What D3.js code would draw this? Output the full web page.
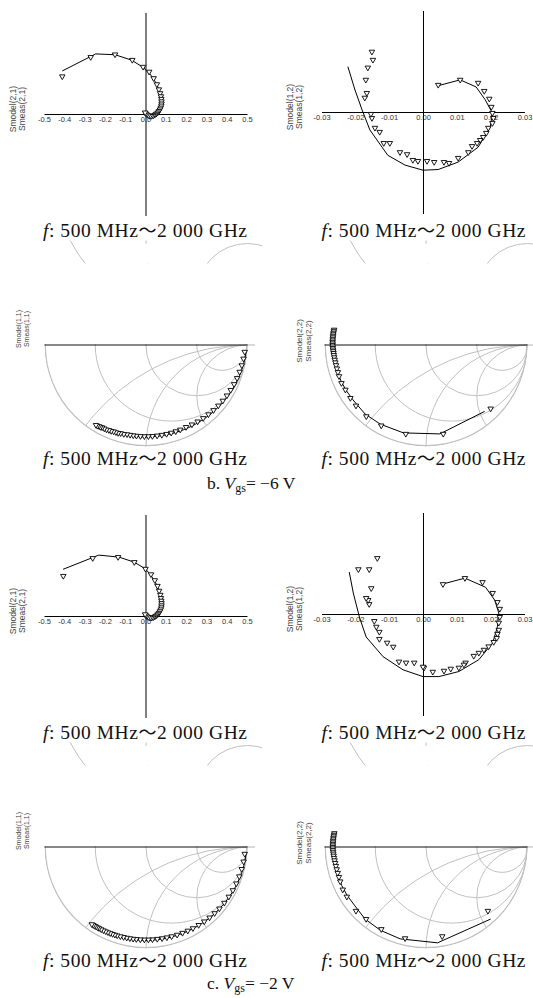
<!DOCTYPE html>
<html>
<head>
<meta charset="utf-8">
<script src="https://cdn.jsdelivr.net/npm/d3@7"></script>
<style>
  body { margin: 0; background: #fff; }
</style>
</head>
<body>
<div id="chart"></div>
<script>
// ---- data ----
const s21Ticks = [-0.5, -0.4, -0.3, -0.2, -0.1, 0, 0.1, 0.2, 0.3, 0.4, 0.5];
const s12Ticks = [-0.03, -0.02, -0.01, 0, 0.01, 0.02, 0.03];
const freqLabel = ['500 MHz', '2 000 GHz'];

// S21, polar, [re, im]
const s21ModelB = [[-0.41,0.212],[-0.245,0.296],[-0.15,0.292],[-0.07,0.266],[-0.015,0.232],[0.02,0.2],[0.043,0.168],[0.06,0.135],[0.072,0.105],[0.078,0.078],[0.079,0.055],[0.076,0.034],[0.069,0.017],[0.058,0.003],[0.045,-0.007],[0.031,-0.012],[0.018,-0.011],[0.008,-0.006],[0.002,0.001]];
const s21MeasB = [[-0.41,0.185],[-0.27,0.28],[-0.15,0.293],[-0.065,0.266],[-0.012,0.232],[0.018,0.208],[0.04,0.176],[0.056,0.146],[0.066,0.121],[0.072,0.102],[0.076,0.087],[0.078,0.074],[0.079,0.062],[0.079,0.051],[0.078,0.041],[0.075,0.031],[0.071,0.022],[0.066,0.014],[0.06,0.007],[0.053,0.001],[0.046,-0.004],[0.038,-0.008],[0.03,-0.01],[0.022,-0.01],[0.014,-0.007],[0.007,-0.003],[0.002,0.002],[-0.002,0.007]];
const s21ModelC = [[-0.406,0.23],[-0.23,0.3],[-0.13,0.29],[-0.055,0.265],[0,0.232],[0.027,0.2],[0.048,0.168],[0.062,0.137],[0.072,0.108],[0.077,0.08],[0.078,0.056],[0.075,0.035],[0.068,0.018],[0.057,0.004],[0.044,-0.006],[0.03,-0.011],[0.017,-0.01],[0.007,-0.005],[0.001,0.002]];
const s21MeasC = [[-0.405,0.197],[-0.26,0.285],[-0.135,0.29],[-0.055,0.265],[0,0.232],[0.027,0.205],[0.046,0.176],[0.059,0.148],[0.067,0.124],[0.073,0.104],[0.076,0.088],[0.078,0.075],[0.079,0.063],[0.079,0.052],[0.078,0.042],[0.075,0.032],[0.071,0.023],[0.066,0.015],[0.06,0.008],[0.053,0.002],[0.046,-0.003],[0.038,-0.007],[0.03,-0.009],[0.022,-0.009],[0.014,-0.006],[0.007,-0.002],[0.002,0.003],[-0.002,0.008]];

// S12, polar, [re, im]
const s12ModelB = [[0.0042,0.0077],[0.011,0.0095],[0.0157,0.0074],[0.0184,0.0036],[0.0205,-0.0003],[0.0199,-0.0045],[0.0163,-0.0104],[0.0104,-0.0148],[0.0045,-0.017],[0,-0.0172],[-0.0053,-0.0157],[-0.0104,-0.0128],[-0.0157,-0.0053],[-0.018,0.0006],[-0.0201,0.0065],[-0.0222,0.0134]];
const s12MeasB = [[0.0045,0.008],[0.011,0.0095],[0.0163,0.0086],[0.0181,0.0062],[0.0196,0.0039],[0.0202,0.0015],[0.0205,-0.0003],[0.0208,-0.0018],[0.0205,-0.0033],[0.0193,-0.0047],[0.0187,-0.0062],[0.0178,-0.0074],[0.0169,-0.0083],[0.016,-0.0092],[0.0145,-0.0101],[0.0134,-0.0119],[0.0104,-0.0136],[0.0077,-0.0151],[0.0062,-0.0148],[0.0033,-0.0148],[0.0012,-0.0145],[-0.0015,-0.0145],[-0.003,-0.0142],[-0.0047,-0.0125],[-0.0068,-0.0119],[-0.0098,-0.0092],[-0.0116,-0.0092],[-0.0128,-0.0059],[-0.0142,-0.0047],[-0.0151,-0.0018],[-0.0154,-0.0006],[-0.0172,0.0042],[-0.0166,0.0056],[-0.0169,0.0095],[-0.0163,0.0131],[-0.0148,0.0154],[-0.0151,0.0178]];
const s12ModelC = [[0.0056,0.0088],[0.0124,0.0106],[0.0185,0.0079],[0.0212,0.0041],[0.0224,0.0003],[0.022,-0.0038],[0.0206,-0.0085],[0.0165,-0.0135],[0.0106,-0.017],[0.0047,-0.0185],[0,-0.0185],[-0.0059,-0.0165],[-0.0118,-0.0126],[-0.0168,-0.0068],[-0.0188,-0.0009],[-0.0206,0.0062],[-0.0218,0.0124]];
const s12MeasC = [[0.0059,0.0088],[0.0124,0.0106],[0.0176,0.0094],[0.0206,0.0062],[0.022,0.0035],[0.0227,0.0015],[0.0227,-0.0009],[0.0224,-0.0026],[0.0224,-0.0047],[0.022,-0.0059],[0.0218,-0.0071],[0.0209,-0.0083],[0.0194,-0.0096],[0.018,-0.0106],[0.0165,-0.0115],[0.015,-0.0124],[0.0126,-0.0144],[0.0121,-0.015],[0.0106,-0.0159],[0.0082,-0.0162],[0.0062,-0.0168],[0.0029,-0.0171],[0.0003,-0.0159],[0,-0.0156],[-0.0026,-0.0144],[-0.005,-0.0144],[-0.0071,-0.0141],[-0.0088,-0.0097],[-0.0106,-0.0085],[-0.0129,-0.0074],[-0.0129,-0.0053],[-0.0138,-0.0038],[-0.0144,-0.0021],[-0.0159,0.0029],[-0.0162,0.0041],[-0.0168,0.0047],[-0.0153,0.0076],[-0.0191,0.0132],[-0.0159,0.0132],[-0.0135,0.0165]];

// S11, Smith, [|G|, angle deg]
const s11ModelB = [[0.99,-3],[0.978,-12],[0.962,-24],[0.945,-36],[0.93,-48],[0.918,-60],[0.91,-72],[0.906,-84],[0.906,-96],[0.91,-108],[0.92,-116],[0.93,-122]];
const s11MeasB = [[0.975,-4],[0.97,-8],[0.965,-12],[0.96,-16],[0.955,-20],[0.95,-24],[0.945,-28],[0.94,-32],[0.935,-36],[0.93,-40],[0.925,-44],[0.92,-48],[0.915,-52],[0.91,-56],[0.905,-60],[0.9,-64],[0.9,-68],[0.9,-71],[0.9,-74],[0.9,-77],[0.9,-80],[0.9,-83],[0.9,-86],[0.9,-88.5],[0.9,-91],[0.9,-93.5],[0.9,-96],[0.9,-98],[0.9,-100],[0.9,-102],[0.905,-104],[0.905,-106],[0.91,-107.5],[0.91,-109],[0.91,-110.5],[0.915,-112],[0.915,-113.5],[0.92,-115],[0.92,-116.5],[0.92,-118],[0.925,-119],[0.925,-120],[0.93,-121],[0.93,-122]];
const s11ModelC = [[0.99,-3],[0.98,-12],[0.965,-24],[0.95,-36],[0.938,-48],[0.928,-60],[0.922,-72],[0.92,-84],[0.92,-96],[0.922,-108],[0.926,-118],[0.93,-125]];
const s11MeasC = [[0.975,-4],[0.972,-8.5],[0.968,-13],[0.964,-17.5],[0.96,-22],[0.956,-26.5],[0.952,-31],[0.948,-35.5],[0.944,-40],[0.94,-44],[0.936,-48],[0.932,-52],[0.928,-56],[0.925,-60],[0.922,-63.5],[0.92,-67],[0.918,-70.5],[0.916,-74],[0.915,-77],[0.914,-80],[0.913,-83],[0.913,-86],[0.913,-88.5],[0.913,-91],[0.913,-93.5],[0.913,-96],[0.914,-98],[0.914,-100],[0.915,-102],[0.915,-104],[0.916,-106],[0.917,-108],[0.918,-109.5],[0.919,-111],[0.92,-112.5],[0.921,-114],[0.922,-115.5],[0.923,-117],[0.924,-118.5],[0.925,-120],[0.926,-121],[0.927,-122],[0.928,-123],[0.929,-124],[0.93,-125]];

// S22, Smith, [re, im]
const s22ModelB = [[-0.905,0.16],[-0.918,0.06],[-0.92,-0.02],[-0.912,-0.1],[-0.895,-0.18],[-0.87,-0.27],[-0.835,-0.36],[-0.785,-0.45],[-0.72,-0.54],[-0.6,-0.68],[-0.45,-0.78],[-0.222,-0.866],[0.137,-0.876],[0.578,-0.654]];
const s22MeasB = [[-0.905,0.15],[-0.908,0.135],[-0.911,0.12],[-0.913,0.105],[-0.915,0.09],[-0.917,0.075],[-0.918,0.06],[-0.919,0.045],[-0.92,0.03],[-0.92,0.015],[-0.92,0],[-0.919,-0.015],[-0.918,-0.03],[-0.916,-0.046],[-0.914,-0.062],[-0.911,-0.08],[-0.908,-0.1],[-0.904,-0.122],[-0.899,-0.146],[-0.893,-0.172],[-0.886,-0.2],[-0.878,-0.232],[-0.868,-0.268],[-0.857,-0.308],[-0.833,-0.376],[-0.794,-0.441],[-0.745,-0.523],[-0.69,-0.598],[-0.588,-0.703],[-0.441,-0.794],[-0.199,-0.876],[0.17,-0.876],[0.637,-0.627]];
const s22ModelC = [[-0.903,0.145],[-0.917,0.05],[-0.918,-0.03],[-0.91,-0.11],[-0.893,-0.19],[-0.868,-0.28],[-0.83,-0.38],[-0.775,-0.48],[-0.7,-0.58],[-0.6,-0.71],[-0.45,-0.82],[-0.255,-0.905],[0.114,-0.944],[0.637,-0.71]];
const s22MeasC = [[-0.903,0.135],[-0.906,0.12],[-0.909,0.105],[-0.911,0.09],[-0.913,0.075],[-0.915,0.06],[-0.916,0.045],[-0.917,0.03],[-0.918,0.015],[-0.918,0],[-0.918,-0.015],[-0.917,-0.031],[-0.915,-0.048],[-0.913,-0.066],[-0.91,-0.086],[-0.906,-0.108],[-0.901,-0.132],[-0.895,-0.158],[-0.888,-0.187],[-0.88,-0.22],[-0.87,-0.256],[-0.858,-0.296],[-0.845,-0.34],[-0.82,-0.42],[-0.78,-0.49],[-0.69,-0.63],[-0.59,-0.71],[-0.44,-0.81],[-0.206,-0.9],[0.16,-0.88],[0.61,-0.63]];

// Smith grid values
const rCircles = [1 / 3, 1, 3];
const xArcs = [0.5, 1, 2];

const W = 533, H = 998;
const serif = '"Liberation Serif", "Times New Roman", serif';
const sans = '"Liberation Sans", Arial, sans-serif';
const GRID = '#c0c0c0';

const svg = d3.select('#chart').append('svg')
  .attr('width', W).attr('height', H)
  .style('display', 'block');

const fromPolar = (d) => [d[0] * Math.cos(d[1] * Math.PI / 180), d[0] * Math.sin(d[1] * Math.PI / 180)];
const fmtDash = (f) => (v) => f(v).replace('\u2212', '-');

function addMarkers(g, pts, x, y) {
  g.selectAll('path.meas')
    .data(pts)
    .enter().append('path')
    .attr('class', 'meas')
    .attr('d', d3.symbol().type(d3.symbolTriangle).size(13))
    .attr('transform', (d) => 'translate(' + x(d[0]) + ',' + y(d[1]) + ') rotate(180)')
    .attr('fill', '#fff')
    .attr('stroke', '#000')
    .attr('stroke-width', 0.9);
}

function yLabel(g, lx, ly, name, size) {
  const t = g.append('text')
    .attr('transform', 'translate(' + lx + ',' + ly + ') rotate(-90)')
    .attr('text-anchor', 'middle')
    .style('font-family', sans)
    .style('font-size', size + 'px')
    .attr('fill', '#444');
  t.append('tspan').attr('x', 0).attr('dy', 0).text('Smodel' + name);
  t.append('tspan').attr('x', 0).attr('dy', size * 1.1).text('Smeas' + name);
}

function drawPolar(o) {
  const half = 101.5;
  const g = svg.append('g');
  const x = d3.scaleLinear().domain([-o.max, o.max]).range([o.cx - half, o.cx + half]);
  const y = d3.scaleLinear().domain([-o.max, o.max]).range([o.cy + half, o.cy - half]);

  const xAxis = g.append('g')
    .attr('transform', 'translate(0,' + o.cy + ')')
    .call(d3.axisBottom(x).tickValues(o.ticks).tickSize(0).tickSizeOuter(0).tickPadding(3)
      .tickFormat(fmtDash(d3.format(o.fmt))));
  xAxis.select('.domain').attr('stroke', '#000').attr('stroke-width', 1);
  xAxis.selectAll('text').style('font-family', sans).style('font-size', '7.5px').attr('fill', '#333');

  const yAxis = g.append('g')
    .attr('transform', 'translate(' + x(0) + ',0)')
    .call(d3.axisLeft(y).tickValues([]).tickSizeOuter(0));
  yAxis.select('.domain').attr('stroke', '#000').attr('stroke-width', 1);

  g.append('path')
    .datum(o.model)
    .attr('fill', 'none')
    .attr('stroke', '#000')
    .attr('stroke-width', 1)
    .attr('d', d3.line().x((d) => x(d[0])).y((d) => y(d[1])));

  addMarkers(g, o.meas, x, y);
  yLabel(g, o.lx, o.cy - 5, o.name, 8.5);
}

function drawSmith(o) {
  const R = 101.5;
  const g = svg.append('g');
  const x = d3.scaleLinear().domain([-1, 1]).range([o.cx - R, o.cx + R]);
  const y = d3.scaleLinear().domain([-1, 1]).range([o.cy + R, o.cy - R]);
  const id = 'c' + Math.round(o.cx) + '_' + Math.round(o.cy);

  const defs = svg.append('defs');
  defs.append('clipPath').attr('id', id + 'circ')
    .append('circle').attr('cx', o.cx).attr('cy', o.cy).attr('r', R);
  defs.append('clipPath').attr('id', id + 'half')
    .append('rect').attr('x', o.cx - R - 2).attr('y', o.cy - 1).attr('width', 2 * R + 4).attr('height', R + 4);
  defs.append('clipPath').attr('id', id + 'strip')
    .append('rect').attr('x', o.cx - R - 30).attr('y', o.cy - R - 3).attr('width', 2 * R + 45).attr('height', 23);

  // upper strip: the parts of the reactance arcs that fall outside the chart
  const strip = g.append('g').attr('clip-path', 'url(#' + id + 'strip)');
  xArcs.forEach((v) => {
    strip.append('circle')
      .attr('cx', x(1)).attr('cy', y(1 / v)).attr('r', R / v)
      .attr('fill', 'none').attr('stroke', GRID).attr('stroke-width', 1);
  });
  strip.append('circle').attr('cx', o.cx).attr('cy', o.cy).attr('r', R - 0.5).attr('fill', '#fff');

  // lower half of the chart
  const lower = g.append('g').attr('clip-path', 'url(#' + id + 'half)')
    .append('g').attr('clip-path', 'url(#' + id + 'circ)');
  rCircles.forEach((r) => {
    lower.append('circle')
      .attr('cx', x(r / (1 + r))).attr('cy', o.cy).attr('r', R / (1 + r))
      .attr('fill', 'none').attr('stroke', GRID).attr('stroke-width', 1);
  });
  xArcs.forEach((v) => {
    lower.append('circle')
      .attr('cx', x(1)).attr('cy', y(-1 / v)).attr('r', R / v)
      .attr('fill', 'none').attr('stroke', GRID).attr('stroke-width', 1);
  });
  lower.append('circle').attr('cx', o.cx).attr('cy', o.cy).attr('r', R - 0.7)
    .attr('fill', 'none').attr('stroke', GRID).attr('stroke-width', 1.4);

  g.append('line')
    .attr('x1', x(1)).attr('x2', o.lineEnd).attr('y1', o.cy).attr('y2', o.cy)
    .attr('stroke', GRID).attr('stroke-width', 1.2);
  g.append('line')
    .attr('x1', x(-1)).attr('x2', x(1)).attr('y1', o.cy).attr('y2', o.cy)
    .attr('stroke', '#111').attr('stroke-width', 1);

  g.append('path')
    .datum(o.model)
    .attr('fill', 'none')
    .attr('stroke', '#000')
    .attr('stroke-width', 1)
    .attr('d', d3.line().curve(o.curve || d3.curveLinear).x((d) => x(d[0])).y((d) => y(d[1])));

  addMarkers(g, o.meas, x, y);
  yLabel(g, o.lx, o.cy - o.ldy, o.name, o.lsize);
}

function freqText(cx, base) {
  const t = svg.append('text')
    .attr('x', cx).attr('y', base)
    .attr('text-anchor', 'middle')
    .attr('textLength', 204)
    .attr('lengthAdjust', 'spacing')
    .style('font-family', serif)
    .style('font-size', '19.5px')
    .attr('fill', '#111');
  t.append('tspan').style('font-style', 'italic').text('f');
  t.append('tspan').text(': ' + freqLabel[0]);
  t.append('tspan').style('font-family', '"Noto Sans CJK SC", sans-serif').style('font-size', '18px').text('\uFF5E');
  t.append('tspan').text(freqLabel[1]);
}

function caption(x0, base, letter, volt) {
  const t = svg.append('text')
    .attr('x', x0).attr('y', base)
    .style('font-family', serif)
    .style('font-size', '17.5px')
    .attr('fill', '#111');
  t.append('tspan').text(letter + '. ');
  t.append('tspan').style('font-style', 'italic').text('V');
  t.append('tspan').attr('dy', 3).style('font-size', '12px').text('gs');
  t.append('tspan').attr('dy', -3).text('= \u2212' + volt + ' V');
}

// ---- rows ----
const rows = [
  { dy: 0, capY: 489, s21m: s21ModelB, s21d: s21MeasB, s12m: s12ModelB, s12d: s12MeasB,
    s11m: s11ModelB, s11d: s11MeasB, s22m: s22ModelB, s22d: s22MeasB, letter: 'b', volt: '6' },
  { dy: 502, capY: 989, s21m: s21ModelC, s21d: s21MeasC, s12m: s12ModelC, s12d: s12MeasC,
    s11m: s11ModelC, s11d: s11MeasC, s22m: s22ModelC, s22d: s22MeasC, letter: 'c', volt: '2' }
];

rows.forEach((r) => {
  // smith charts first (their upper fragments sit under the labels)
  drawSmith({ cx: 146, cy: 345 + r.dy, model: r.s11m.map(fromPolar), meas: r.s11d.map(fromPolar),
    curve: d3.curveCatmullRom, name: '(1,1)', lx: 21, ldy: 16, lsize: 7, lineEnd: 255 });
  drawSmith({ cx: 426, cy: 345 + r.dy, model: r.s22m, meas: r.s22d,
    name: '(2,2)', lx: 302, ldy: 4, lsize: 8, lineEnd: 533 });

  drawPolar({ cx: 145.5, cy: 114 + r.dy, max: 0.5, ticks: s21Ticks, fmt: '.1f',
    model: r.s21m, meas: r.s21d, name: '(2,1)', lx: 16 });
  drawPolar({ cx: 423, cy: 112 + r.dy, max: 0.03, ticks: s12Ticks, fmt: '.2f',
    model: r.s12m, meas: r.s12d, name: '(1,2)', lx: 293 });

  freqText(145, 237 + r.dy);
  freqText(423.5, 237 + r.dy);
  freqText(145, 465 + r.dy);
  freqText(423.5, 465 + r.dy);
  caption(207, r.capY, r.letter, r.volt);
});
</script>
</body>
</html>
